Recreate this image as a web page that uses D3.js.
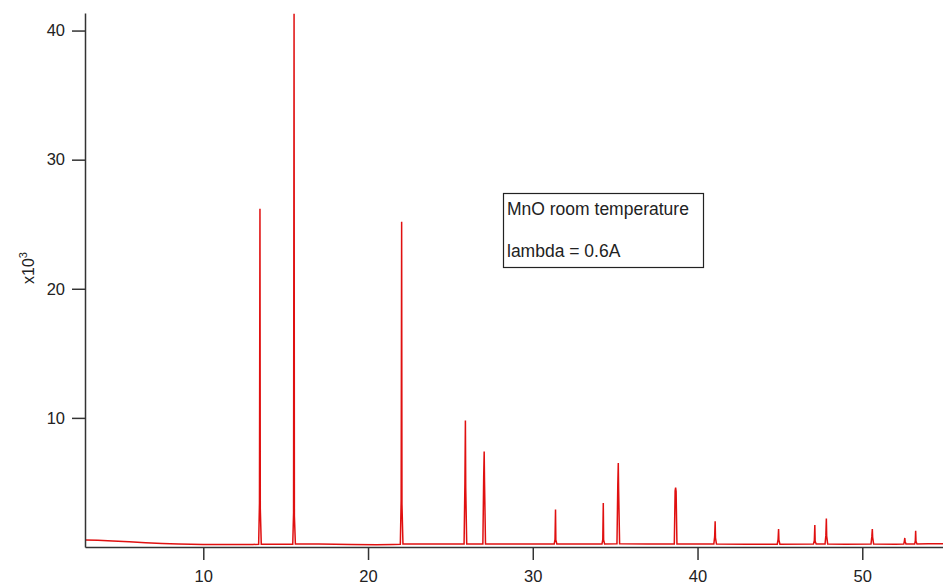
<!DOCTYPE html>
<html>
<head>
<meta charset="utf-8">
<script src="https://cdn.jsdelivr.net/npm/d3@7"></script>
<style>
  html, body { margin: 0; padding: 0; background: #fff; }
  svg { display: block; }
  text { font-family: Arial, "Liberation Sans", sans-serif; fill: #222; }
</style>
</head>
<body>
<svg id="chart" width="943" height="584"></svg>
<script>
// ---- data ----
const twoTheta = [
  2.85, 3.6, 4.5, 5.5, 6.5, 7.5, 8.5, 10.0, 11.5, 13.0,
  13.36, 13.41, 13.44, 13.46, 13.52,
  15.0, 15.43, 15.48, 15.51, 15.53, 15.59,
  17.0, 19.0, 20.5, 21.5,
  21.96, 22.01, 22.04, 22.06, 22.12,
  24.0,
  25.83, 25.88, 25.91, 25.93, 25.99,
  26.97, 27.02, 27.05, 27.07, 27.13,
  29.0,
  31.30, 31.35, 31.38, 31.40, 31.46,
  33.0,
  34.20, 34.25, 34.28, 34.30, 34.36,
  35.11, 35.16, 35.19, 35.21, 35.27,
  37.0,
  38.59, 38.64, 38.67, 38.70, 38.75,
  40.0,
  40.99, 41.04, 41.07, 41.09, 41.15,
  43.0,
  44.84, 44.89, 44.92, 44.94, 45.0,
  47.04, 47.09, 47.12, 47.14, 47.20,
  47.74, 47.79, 47.82, 47.84, 47.90,
  49.0,
  50.53, 50.58, 50.61, 50.63, 50.69,
  52.0,
  52.52, 52.56, 52.58, 52.60, 52.65,
  53.18, 53.22, 53.24, 53.26, 53.32,
  54.0, 55.0
];
const counts = [
  550, 520, 470, 400, 330, 280, 240, 200, 190, 200,
  210, 3400, 26200, 3000, 220,
  210, 220, 2650, 41300, 2400, 230,
  230, 200, 180, 200,
  220, 3600, 25200, 3300, 230,
  230,
  240, 4900, 9800, 4600, 240,
  240, 5400, 7400, 5100, 240,
  230,
  230, 600, 2900, 550, 230,
  230,
  230, 600, 3400, 550, 240,
  250, 4800, 6500, 4500, 250,
  230,
  240, 4350, 4600, 4300, 240,
  230,
  230, 800, 2000, 700, 230,
  220,
  220, 600, 1400, 550, 220,
  230, 500, 1700, 450, 230,
  230, 900, 2200, 850, 230,
  220,
  230, 800, 1400, 750, 230,
  220,
  230, 500, 700, 450, 230,
  230, 500, 1250, 450, 240,
  250, 260
];
const xTicks = [10, 20, 30, 40, 50];
const yTicks = [10000, 20000, 30000, 40000];
const yTickLabels = ["10", "20", "30", "40"];
const noteLines = ["MnO room temperature", "lambda = 0.6A"];

// ---- chart ----
const svg = d3.select("#chart");
const x = d3.scaleLinear().domain([2.82, 54.9]).range([85, 943]);
const y = d3.scaleLinear().domain([0, 41360]).range([547, 13]);

const pts = twoTheta.map((t, i) => [t, counts[i]]);

svg.append("path")
  .datum(pts)
  .attr("fill", "none")
  .attr("stroke", "#e01010")
  .attr("stroke-width", 1.5)
  .attr("stroke-linejoin", "miter")
  .attr("d", d3.line().x(d => x(d[0])).y(d => y(d[1])));

const xAxis = svg.append("g")
  .attr("transform", "translate(0,547)")
  .call(d3.axisBottom(x).tickValues(xTicks).tickSize(13).tickSizeOuter(0).tickPadding(10).tickFormat(d3.format("d")));
const yAxis = svg.append("g")
  .attr("transform", "translate(85,0)")
  .call(d3.axisLeft(y).tickValues(yTicks).tickSize(13).tickSizeOuter(0).tickPadding(7)
        .tickFormat((d, i) => yTickLabels[i]));

[xAxis, yAxis].forEach(g => {
  g.selectAll("path.domain").attr("stroke", "#333").attr("stroke-width", 1.5);
  g.selectAll(".tick line").attr("stroke", "#333").attr("stroke-width", 1.5);
  g.selectAll(".tick text").style("font-size", "16.5px").attr("fill", "#2a2a2a")
   .style("font-family", "Arial, 'Liberation Sans', sans-serif");
});

// y-axis unit label x10^3
const yl = svg.append("text")
  .attr("transform", "translate(34,268) rotate(-90)")
  .attr("text-anchor", "middle")
  .style("font-size", "16px");
yl.append("tspan").text("x10");
yl.append("tspan").attr("dy", -7).style("font-size", "11px").text("3");

// annotation box
const box = svg.append("g");
box.append("rect")
  .attr("x", 503.5).attr("y", 193.5)
  .attr("width", 200).attr("height", 74)
  .attr("fill", "#fff").attr("stroke", "#222").attr("stroke-width", 1.2);
box.selectAll("text.note").data(noteLines).join("text")
  .attr("class", "note")
  .attr("x", 507)
  .attr("y", (d, i) => 215 + i * 42)
  .style("font-size", "17.5px")
  .text(d => d);
</script>
</body>
</html>
